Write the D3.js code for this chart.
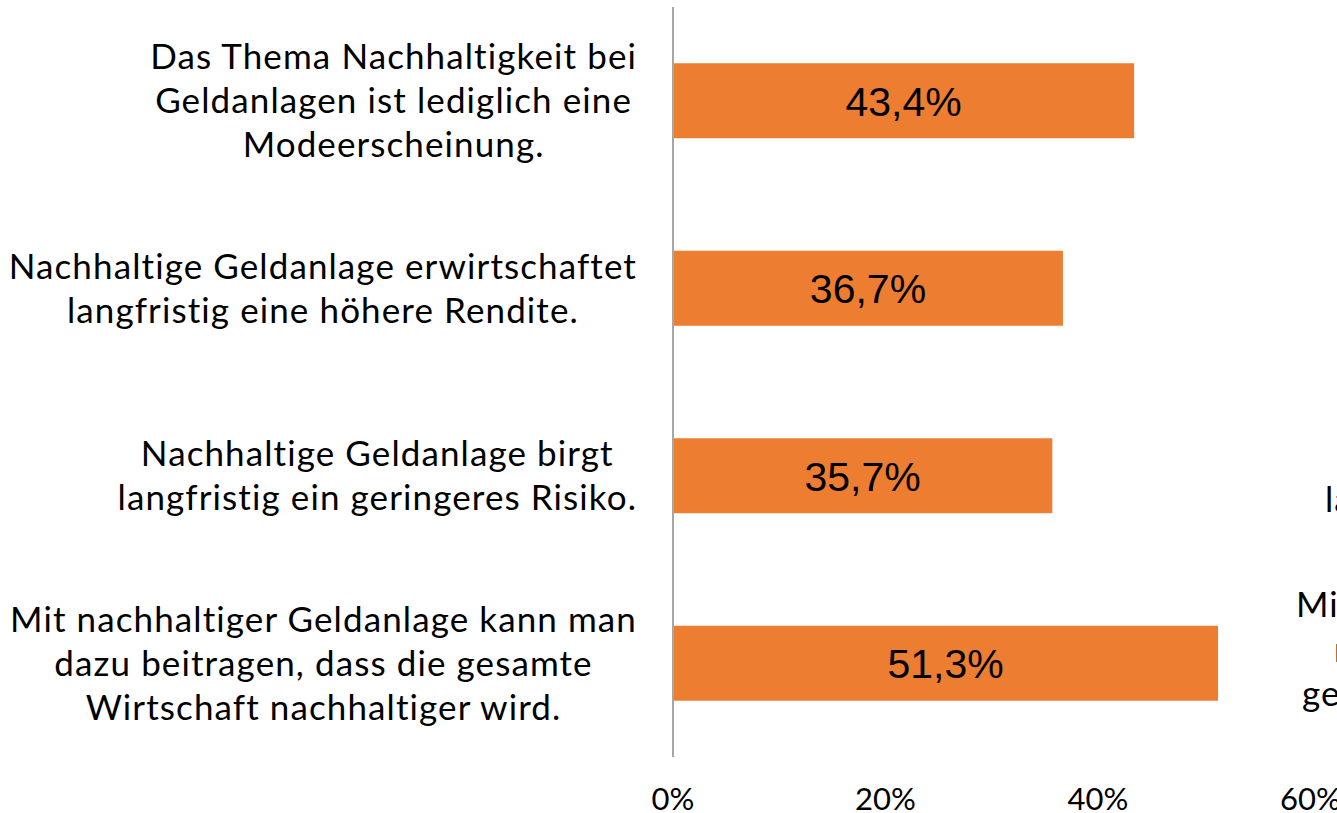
<!DOCTYPE html>
<html>
<head>
<meta charset="utf-8">
<script src="https://cdn.jsdelivr.net/npm/d3@7"></script>
<style>
body { margin: 0; background: #fff; overflow: hidden; }
svg { display: block; }
text { font-variant-ligatures: none; }
</style>
</head>
<body>
<svg id="chart" width="1337" height="813"></svg>
<script>
// statements (each line break as in the original chart)
var categories = [
	["Das Thema Nachhaltigkeit bei", "Geldanlagen ist lediglich eine", "Modeerscheinung."],
	["Nachhaltige Geldanlage erwirtschaftet", "langfristig eine höhere Rendite."],
	["Nachhaltige Geldanlage birgt", "langfristig ein geringeres Risiko."],
	["Mit nachhaltiger Geldanlage kann man", "dazu beitragen, dass die gesamte", "Wirtschaft nachhaltiger wird."]
];
var values = [43.4, 36.7, 35.7, 51.3];
var tickValues = [0, 20, 40, 60];

// labels of the neighbouring chart, cut off at the right edge
var clippedLabels = [
	{text: "langfristig", x: 1325, y: 512},
	{text: "Mit nachhaltiger", x: 1296, y: 617},
	{text: "nachhaltiger", x: 1334, y: 662},
	{text: "gesamte", x: 1302, y: 706}
];

var svg = d3.select("#chart");
var axisX = 673;
var labelRight = 637;
var lineHeight = 44;

var x = d3.scaleLinear().domain([0, 60]).range([axisX, axisX + 637.5]);
var y = d3.scaleBand().domain(d3.range(categories.length)).range([7, 757]).paddingInner(0.6).paddingOuter(0.3);

// bars
svg.selectAll(".bar")
	.data(values)
	.enter().append("rect")
	.attr("class", "bar")
	.attr("x", x(0))
	.attr("y", function(d, i) { return y(i); })
	.attr("width", function(d) { return x(d) - x(0); })
	.attr("height", y.bandwidth())
	.style("fill", "#ED7D31");

// value labels inside the bars
svg.selectAll(".value")
	.data(values)
	.enter().append("text")
	.attr("class", "value")
	.attr("x", function(d) { return (x(0) + x(d)) / 2; })
	.attr("y", function(d, i) { return y(i) + y.bandwidth() / 2; })
	.attr("dy", "0.36em")
	.attr("text-anchor", "middle")
	.style("font-family", "'Liberation Sans', Arial, sans-serif")
	.style("font-size", "41px")
	.style("fill", "#000")
	.text(function(d) { return d.toFixed(1).replace(".", ",") + "%"; });

// category labels: lines centred on each other, block right-aligned to the axis
var label = svg.selectAll(".label")
	.data(categories)
	.enter().append("text")
	.attr("class", "label")
	.attr("text-anchor", "middle")
	.style("font-family", "Lato, sans-serif")
	.style("font-size", "35px")
	.style("letter-spacing", "1.1px")
	.style("fill", "#000");

label.each(function(lines, i) {
	var t = d3.select(this);
	var mid = y(i) + y.bandwidth() / 2;
	lines.forEach(function(line, k) {
		t.append("tspan")
			.attr("y", mid + (k - (lines.length - 1) / 2) * lineHeight)
			.attr("dy", "0.35em")
			.text(line);
	});
	var w = 0;
	t.selectAll("tspan").each(function() { w = Math.max(w, this.getComputedTextLength()); });
	t.selectAll("tspan").attr("x", labelRight - w / 2);
});

// vertical axis line
svg.append("line")
	.attr("x1", axisX).attr("x2", axisX)
	.attr("y1", 7).attr("y2", 757)
	.style("stroke", "#A6A6A6")
	.style("stroke-width", 2);

// x tick labels
svg.selectAll(".tick")
	.data(tickValues)
	.enter().append("text")
	.attr("class", "tick")
	.attr("x", function(d) { return x(d); })
	.attr("y", 810)
	.attr("text-anchor", "middle")
	.style("font-family", "Lato, sans-serif")
	.style("font-size", "31px")
	.style("fill", "#000")
	.text(function(d) { return d + "%"; });

svg.selectAll(".clipped")
	.data(clippedLabels)
	.enter().append("text")
	.attr("class", "clipped")
	.attr("x", function(d) { return d.x; })
	.attr("y", function(d) { return d.y; })
	.style("font-family", "Lato, sans-serif")
	.style("font-size", "35px")
	.style("letter-spacing", "1px")
	.style("fill", "#000")
	.text(function(d) { return d.text; });
</script>
</body>
</html>
